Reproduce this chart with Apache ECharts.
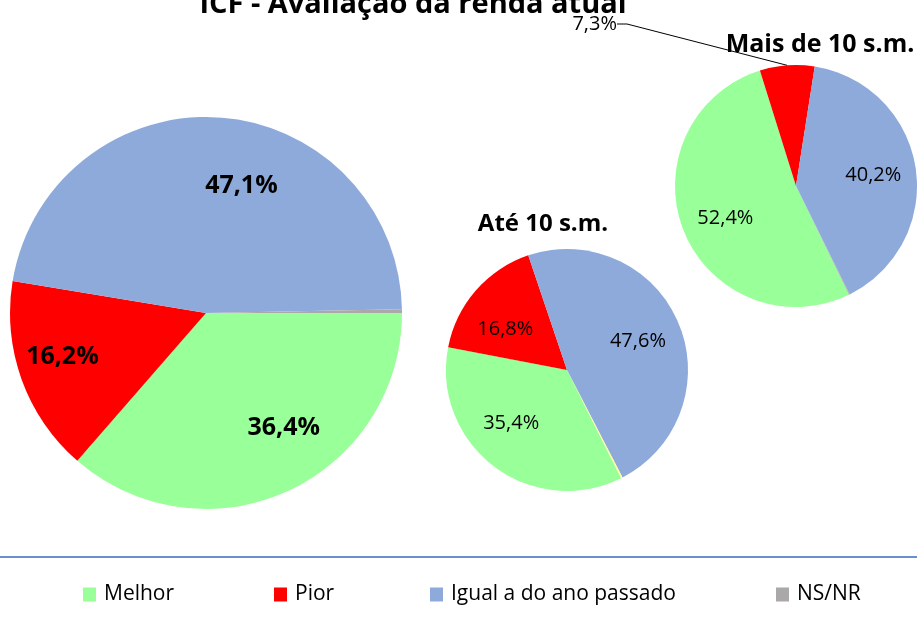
<!DOCTYPE html>
<html>
<head>
<meta charset="utf-8">
<script src="https://cdn.jsdelivr.net/npm/echarts@6/dist/echarts.min.js"></script>
<style>
    html, body { margin: 0; padding: 0; background: #fff; }
    #main { width: 917px; height: 621px; }
</style>
</head>
<body>
<div id="main"></div>
<script>
// 分类和数据
var categories = ['Melhor', 'Pior', 'Igual a do ano passado', 'NS/NR'];
var geral = [36.4, 16.2, 47.1, 0.3];
var ate10 = [35.4, 16.8, 47.6, 0.2];
var mais10 = [52.4, 7.3, 40.2, 0.1];
var pieTitles = ['ICF - Avaliação da renda atual', 'Até 10 s.m.', 'Mais de 10 s.m.'];

var FONT = '"Open Sans", "Noto Sans", sans-serif';
var colors = ['#99ff99', '#ff0000', '#8eaadb', '#aaa8a8'];

//数字格式 36,4%
function fmt(p) {
    return p.value.toFixed(1).replace('.', ',') + '%';
}

function buildData(values, nsColor) {
    var arr = [];
    for (var i = 0; i < values.length; i++) {
        var c = colors[i];
        if (i == 3 && nsColor) c = nsColor;
        arr.push({ name: categories[i], value: values[i], itemStyle: { color: c } });
    }
    return arr;
}

// 只显示标签的透明饼图，让标签离圆心更远 (nudge 是标签微调)
function labelPie(values, center, r, inner, opt) {
    var arr = [];
    for (var i = 0; i < values.length; i++) {
        var d = { name: categories[i], value: values[i] };
        if (opt.nudge && opt.nudge[i]) d.label = { offset: opt.nudge[i] };
        arr.push(d);
    }
    return {
        type: 'pie',
        silent: true,
        legendHoverLink: false,
        center: center,
        radius: [r * inner, r],
        startAngle: opt.start,
        clockwise: true,
        avoidLabelOverlap: false,
        itemStyle: { color: 'rgba(0,0,0,0)', borderWidth: 0 },
        label: {
            show: true,
            position: 'inside',
            formatter: function (p) {
                if (p.dataIndex == 3 || opt.skip == p.dataIndex) return '';
                return fmt(p);
            },
            fontFamily: FONT,
            fontSize: opt.size,
            fontWeight: opt.weight,
            color: '#000'
        },
        data: arr
    };
}

function basePie(values, center, r, start, nsColor) {
    return {
        type: 'pie',
        center: center,
        radius: [0, r],
        startAngle: start,
        clockwise: true,
        avoidLabelOverlap: false,
        itemStyle: { borderWidth: 0 },
        label: { show: false },
        labelLine: { show: false },
        emphasis: { disabled: true },
        data: buildData(values, nsColor)
    };
}

function legendAt(i, x) {
    return {
        data: [categories[i]],
        left: x,
        top: 584,
        padding: 0,
        icon: 'rect',
        itemWidth: 13,
        itemHeight: 14,
        itemGap: 0,
        selectedMode: false,
        textStyle: { fontFamily: FONT, fontSize: 21, color: '#000', padding: [0, 0, 0, 3] }
    };
}

var myChart = echarts.init(document.getElementById('main'));

var third = basePie(mais10, [796, 186], 121, -64);
// 7,3% 放到外面，有引导线
third.data[1].label = {
    show: true,
    position: 'outside',
    formatter: fmt,
    fontFamily: FONT,
    fontSize: 20,
    color: '#000'
};
third.data[1].labelLine = {
    show: true,
    length: 20,
    length2: 10,
    lineStyle: { color: '#000', width: 1 }
};
third.labelLayout = function (params) {
    if (params.dataIndex == 1) {
        return { x: 617, y: 24, align: 'right', verticalAlign: 'middle' };
    }
};

function titleAt(text, x, y, size) {
    return {
        text: text,
        left: x,
        top: y,
        padding: 0,
        textAlign: 'center',
        textStyle: { fontFamily: FONT, fontSize: size, fontWeight: 'bold', color: '#000' }
    };
}

var option = {
    animation: false,
    backgroundColor: '#fff',
    title: [
        titleAt(pieTitles[0], 413, -10, 29),
        titleAt(pieTitles[1], 543, 212, 24),
        titleAt(pieTitles[2], 820, 32, 25)
    ],
    legend: [legendAt(0, 83), legendAt(1, 274), legendAt(2, 430), legendAt(3, 776)],
    graphic: [{
        type: 'line',
        shape: { x1: 0, y1: 557, x2: 917, y2: 557 },
        style: { stroke: '#6a8fd0', lineWidth: 2 }
    }],
    series: [
        basePie(geral, [206, 313], 196, 0),
        basePie(ate10, [567, 370], 121, -63.4, '#ffff99'),
        third,
        labelPie(geral, [206, 313], 196, 0.44, {
            size: 25, weight: 'bold', start: 0,
            nudge: [[18, -16], [-8, -5], [25, 17]]
        }),
        labelPie(ate10, [567, 370], 121, 0.26, {
            size: 20, weight: 'normal', start: -63.4,
            nudge: [[-8, -10], [-2, 11], [-2, 2]]
        }),
        labelPie(mais10, [796, 186], 121, 0.26, {
            size: 20, weight: 'normal', start: -64, skip: 1,
            nudge: [[3, 3], null, [-1, 1]]
        })
    ]
};
myChart.setOption(option);
</script>
</body>
</html>
